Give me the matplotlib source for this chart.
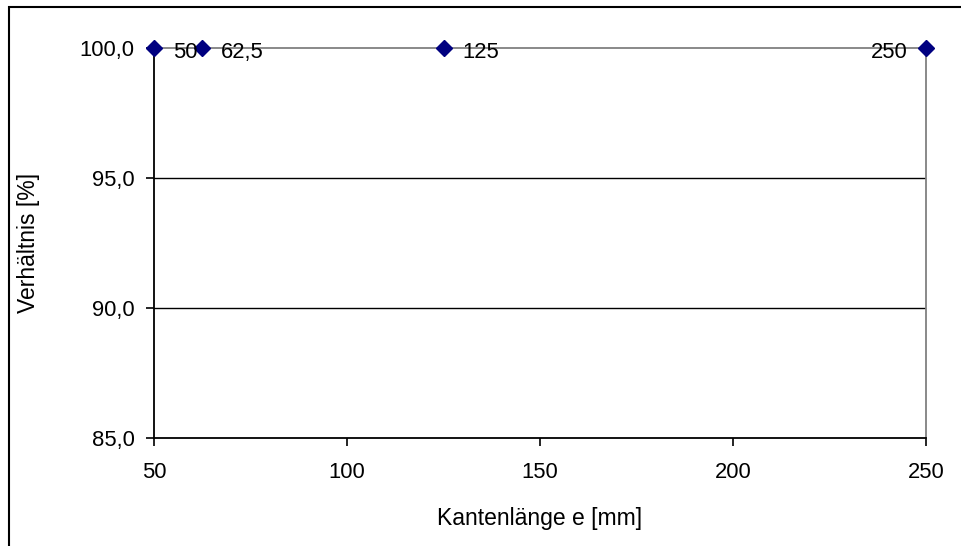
import matplotlib
matplotlib.use("Agg")
import matplotlib.pyplot as plt
from matplotlib.patches import Rectangle

plt.rcParams['font.family'] = ['Liberation Sans', 'DejaVu Sans']

kantenlaenge = [50, 62.5, 125, 250]
verhaeltnis = [100.0, 100.0, 100.0, 100.0]
punkt_labels = ["50", "62,5", "125", "250"]
y_ticks = [85.0, 90.0, 95.0, 100.0]
x_ticks = [50, 100, 150, 200, 250]

W, H = 961, 546
fig = plt.figure(figsize=(W / 100, H / 100), dpi=100)

# chart frame
fig.patches.append(Rectangle((9 / W, -0.1), 1.2, 1 - 7 / H + 0.1, transform=fig.transFigure,
                             fill=False, edgecolor='black', linewidth=1.5))

ax = fig.add_axes([154 / W, 1 - 438 / H, (926 - 154) / W, (438 - 48) / H])
ax.set_xlim(50, 250)
ax.set_ylim(85, 100)

for yv in y_ticks[1:3]:
    ax.axhline(yv, color='black', linewidth=1.0, zorder=1)

ax.spines['left'].set_color('black')
ax.spines['bottom'].set_color('black')
ax.spines['top'].set_color('#808080')
ax.spines['right'].set_color('#808080')
for s in ax.spines.values():
    s.set_linewidth(1.3)

tick_fs = 15.8
label_fs = 16.5

ax.set_yticks(y_ticks)
ax.set_yticklabels([f"{v:.1f}".replace('.', ',') for v in y_ticks])
ax.set_xticks(x_ticks)
ax.set_xticklabels([str(v) for v in x_ticks])
ax.tick_params(axis='both', direction='out', length=6, width=1.2, labelsize=tick_fs, colors='black')
ax.tick_params(axis='y', pad=8)
ax.tick_params(axis='x', pad=11)

ax.plot(kantenlaenge, verhaeltnis, linestyle='none', marker='D', markersize=8.5,
        color='#000080', clip_on=False, zorder=5)

for x, y, lab in zip(kantenlaenge, verhaeltnis, punkt_labels):
    if x == max(kantenlaenge):
        ax.annotate(lab, (x, y), xytext=(-13, -3.5), textcoords='offset points',
                    ha='right', va='center', fontsize=tick_fs, zorder=6)
    else:
        ax.annotate(lab, (x, y), xytext=(13.5, -3.5), textcoords='offset points',
                    ha='left', va='center', fontsize=tick_fs, zorder=6)

ax.set_xlabel("Kantenlänge e [mm]", fontsize=label_fs, va='center')
ax.set_ylabel("Verhältnis [%]", fontsize=label_fs, va='center')
ax.xaxis.set_label_coords(0.5, (438 - 518) / 390)
ax.yaxis.set_label_coords((29 - 154) / 772, 0.5)

fig.savefig("out.png", dpi=100)
